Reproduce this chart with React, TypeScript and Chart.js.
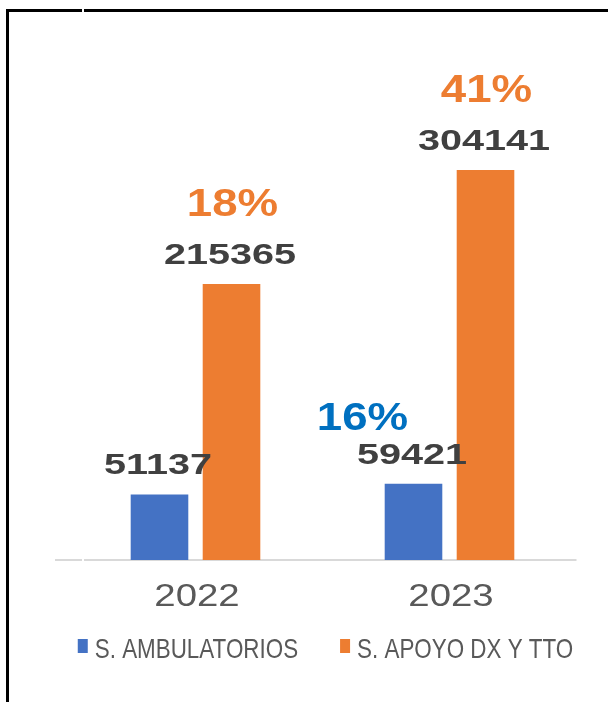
import { useEffect, useRef } from "react";
import { Chart, registerables } from "chart.js";
Chart.register(...registerables);

const categories = ["2022", "2023"];
const seriesNames = ["S. AMBULATORIOS", "S. APOYO DX Y TTO"];
const ambulatorios = [51137, 59421];
const apoyo = [215365, 304141];
const ambulatoriosPct = ["", "16%"];
const apoyoPct = ["18%", "41%"];
const yMax = 400000;

const BLUE = "#4472C4";
const ORANGE = "#ED7D31";
const PCT_BLUE = "#0070C0";
const VALUE_COLOR = "#404040";
const AXIS_TEXT = "#595959";
const FONT = '"Liberation Sans", Arial, sans-serif';

function drawText(ctx: CanvasRenderingContext2D, text: string, x: number, y: number, font: string, color: string, sx: number, align: CanvasTextAlign = "center") {
  ctx.save();
  ctx.font = font;
  ctx.fillStyle = color;
  ctx.textBaseline = "alphabetic";
  ctx.textAlign = align;
  ctx.translate(x, y);
  ctx.scale(sx, 1);
  ctx.fillText(text, 0, 0);
  ctx.restore();
}

const decorPlugin = {
  id: "decor",
  beforeDraw(chart: any) {
    const ctx = chart.ctx as CanvasRenderingContext2D;
    ctx.save();
    ctx.fillStyle = "#ffffff";
    ctx.fillRect(0, 0, chart.width, chart.height);
    // frame
    ctx.fillStyle = "#000000";
    ctx.fillRect(6, 9, 3, chart.height - 9);
    ctx.fillRect(6, 9, 76, 3);
    ctx.fillRect(84, 9, chart.width - 84, 3);
    ctx.restore();
  },
  beforeDatasetsDraw(chart: any) {
    const ctx = chart.ctx as CanvasRenderingContext2D;
    const y0 = chart.scales.y.getPixelForValue(0);
    ctx.save();
    ctx.fillStyle = "#D9D9D9";
    ctx.fillRect(55, y0 - 1, 27, 2);
    ctx.fillRect(84, y0 - 1, chart.chartArea.right - 84, 2);
    ctx.restore();
  },
  afterDraw(chart: any) {
    const ctx = chart.ctx as CanvasRenderingContext2D;
    const pctSets = [ambulatoriosPct, apoyoPct];
    const pctColors = [PCT_BLUE, ORANGE];
    const pctOffsets = [
      { dx: -51, dy: -54 },
      { dx: 1, dy: -68 },
    ];
    chart.data.datasets.forEach((ds: any, i: number) => {
      const meta = chart.getDatasetMeta(i);
      meta.data.forEach((bar: any, j: number) => {
        const v = ds.data[j];
        drawText(ctx, String(v), bar.x - 1.5, bar.y - 20, `bold 30px ${FONT}`, VALUE_COLOR, 1.32);
        const p = pctSets[i][j];
        if (p) {
          drawText(ctx, p, bar.x + pctOffsets[i].dx, bar.y + pctOffsets[i].dy, `bold 39px ${FONT}`, pctColors[i], 1.17);
        }
      });
    });
    // category labels
    const xs = chart.scales.x;
    const y0 = chart.scales.y.getPixelForValue(0);
    categories.forEach((c, j) => {
      drawText(ctx, c, xs.getPixelForValue(j) + 1.5, y0 + 46, `32px ${FONT}`, AXIS_TEXT, 1.2);
    });
    // legend
    const legendFont = `28px ${FONT}`;
    const sx = 0.8;
    ctx.save();
    ctx.font = legendFont;
    const widths = seriesNames.map((n) => ctx.measureText(n).width * sx);
    ctx.restore();
    const boxW = 10;
    const boxGap = 7;
    const itemGap = 42;
    const total = widths.reduce((a, w) => a + boxW + boxGap + w, 0) + itemGap * (seriesNames.length - 1);
    const center = (chart.chartArea.left + chart.chartArea.right) / 2 + 3;
    let x = center - total / 2;
    const baseY = y0 + 98;
    const colors = [BLUE, ORANGE];
    seriesNames.forEach((n, i) => {
      ctx.save();
      ctx.fillStyle = colors[i];
      ctx.fillRect(x, baseY - 19, boxW, 14);
      ctx.restore();
      drawText(ctx, n, x + boxW + boxGap, baseY, legendFont, AXIS_TEXT, sx, "left");
      x += boxW + boxGap + widths[i] + itemGap;
    });
  },
};

export default function App() {
  const ref = useRef<HTMLCanvasElement | null>(null);
  useEffect(() => {
    document.body.style.margin = "0";
    const canvas = ref.current;
    if (!canvas) return;
    const chart = new Chart(canvas, {
      type: "bar",
      data: {
        labels: categories,
        datasets: [
          {
            label: seriesNames[0],
            data: ambulatorios,
            backgroundColor: BLUE,
            categoryPercentage: 0.567,
            barPercentage: 0.8,
          },
          {
            label: seriesNames[1],
            data: apoyo,
            backgroundColor: ORANGE,
            categoryPercentage: 0.567,
            barPercentage: 0.8,
          },
        ],
      },
      options: {
        responsive: false,
        animation: false,
        layout: { padding: { left: 68.5, right: 31.5, top: 47.2, bottom: 142 } },
        plugins: {
          legend: { display: false },
          tooltip: { enabled: false },
        },
        scales: {
          x: { display: false, grid: { display: false } },
          y: { display: false, min: 0, max: yMax, grid: { display: false } },
        },
      },
      plugins: [decorPlugin],
    });
    return () => chart.destroy();
  }, []);
  return <canvas ref={ref} width={608} height={702} style={{ display: "block" }} />;
}
